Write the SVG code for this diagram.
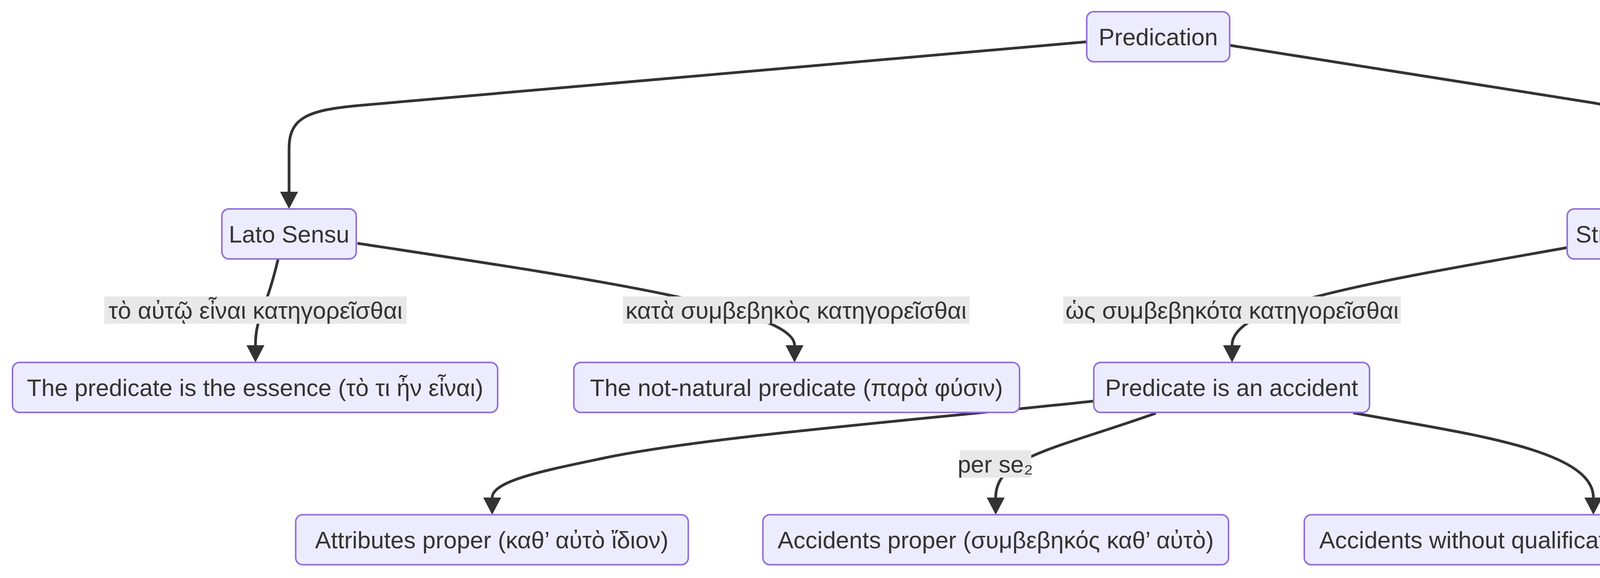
<svg xmlns="http://www.w3.org/2000/svg" width="6272" height="1480" viewBox="0 0 6272 1480">
<style>
.node rect{fill:#ECECFF;stroke:#9370DB;stroke-width:4}
.t{font-family:"Liberation Sans","DejaVu Sans",sans-serif;font-size:61px;fill:#333333;text-anchor:middle}
.edge{fill:none;stroke:#333333;stroke-width:7;marker-end:url(#arrow)}
.lbl{fill:#e8e8e8}
</style>
<defs>
<marker id="arrow" viewBox="0 0 10 10" refX="0" refY="5" markerUnits="userSpaceOnUse" markerWidth="44" markerHeight="46" preserveAspectRatio="none" orient="auto">
<path d="M0,0 L10,5 L0,10 z" fill="#333333"/>
</marker>
</defs>
<rect width="6272" height="1480" fill="#ffffff"/>
<g id="connectors">
<path class="edge" d="M2782,107 L920,270 C790,282 740,300 740,380 L740,491"/>
<path class="edge" d="M3148,116 L4070,262 C4180,280 4215,300 4215,380 L4215,491"/>
<path class="edge" d="M712,663 C680,800 654,810 654,884"/>
<path class="edge" d="M915,623 C1500,712 2034,790 2034,884"/>
<path class="edge" d="M4012,634 C3500,725 3154,780 3154,884"/>
<path class="edge" d="M4418,627 C5100,738 5557,790 5557,884"/>
<path class="edge" d="M2800,1027 C2300,1080 1800,1120 1550,1172 C1420,1200 1260,1228 1260,1274"/>
<path class="edge" d="M2959,1058 C2700,1150 2549,1170 2549,1274"/>
<path class="edge" d="M3464,1057 C3750,1110 4079,1150 4079,1274"/>
<path class="edge" d="M5447,1056 C5330,1150 5232,1180 5232,1274"/>
<path class="edge" d="M5665,1056 C5780,1150 5880,1180 5880,1274"/>
</g>
<g id="edge-labels">
<g id="label-1"><rect class="lbl" x="267" y="759" width="774" height="70"/><text class="t" x="654" y="816">τὸ αὐτῷ εἶναι κατηγορεῖσθαι</text></g>
<g id="label-2"><rect class="lbl" x="1595" y="759" width="887" height="70"/><text class="t" x="2038" y="816">κατὰ συμβεβηκὸς κατηγορεῖσθαι</text></g>
<g id="label-3"><rect class="lbl" x="2722" y="759" width="864" height="70"/><text class="t" x="3154" y="816">ὡς συμβεβηκότα κατηγορεῖσθαι</text></g>
<g id="label-4"><rect class="lbl" x="5351" y="759" width="412" height="70"/><text class="t" x="5557" y="816">τό ἐν τῷ τί ἐστι</text></g>
<g id="label-5"><rect class="lbl" x="2457" y="1153" width="183" height="70"/><text class="t" x="2548" y="1210">per se₂</text></g>
<g id="label-6"><rect class="lbl" x="5139" y="1153" width="182" height="70"/><text class="t" x="5230" y="1210">per se₁</text></g>
<g id="label-7"><rect class="lbl" x="5793" y="1153" width="180" height="70"/><text class="t" x="5883" y="1210">per se₁</text></g>
</g>
<g id="n-predication" class="node"><rect x="2782" y="30" width="366" height="128" rx="18"/><text class="t" x="2965" y="116">Predication</text></g>
<g id="n-lato" class="node"><rect x="568" y="535" width="344" height="128" rx="18"/><text class="t" x="740" y="621">Lato Sensu</text></g>
<g id="n-stricto" class="node"><rect x="4012" y="535" width="406" height="128" rx="18"/><text class="t" x="4215" y="621">Stricto Sensu</text></g>
<g id="n-essence" class="node"><rect x="32" y="928" width="1242" height="128" rx="18"/><text class="t" x="653" y="1014">The predicate is the essence (τὸ τι ἦν εἶναι)</text></g>
<g id="n-notnatural" class="node"><rect x="1469" y="928" width="1141" height="128" rx="18"/><text class="t" x="2039" y="1014">The not-natural predicate (παρὰ φύσιν)</text></g>
<g id="n-accident" class="node"><rect x="2800" y="928" width="706" height="128" rx="18"/><text class="t" x="3153" y="1014">Predicate is an accident</text></g>
<g id="n-definition" class="node"><rect x="4876" y="928" width="1363" height="128" rx="18"/><text class="t" x="5557" y="1014">Predicate is part of the definition of the subject</text></g>
<g id="n-attributes" class="node"><rect x="757" y="1318" width="1005" height="128" rx="18"/><text class="t" x="1259" y="1404">Attributes proper (καθ’ αὐτὸ ἴδιον)</text></g>
<g id="n-accproper" class="node"><rect x="1953" y="1318" width="1192" height="128" rx="18"/><text class="t" x="2549" y="1404">Accidents proper (συμβεβηκός καθ’ αὐτὸ)</text></g>
<g id="n-without" class="node"><rect x="3339" y="1318" width="1481" height="128" rx="18"/><text class="t" x="4079" y="1404">Accidents without qualification (ἁπλῶς συμβεβηκός)</text></g>
<g id="n-genus" class="node"><rect x="5016" y="1318" width="431" height="128" rx="18"/><text class="t" x="5231" y="1404">Genus (γένος)</text></g>
<g id="n-especies" class="node"><rect x="5641" y="1318" width="479" height="128" rx="18"/><text class="t" x="5880" y="1404">Especies (εἶδος)</text></g>
</svg>
